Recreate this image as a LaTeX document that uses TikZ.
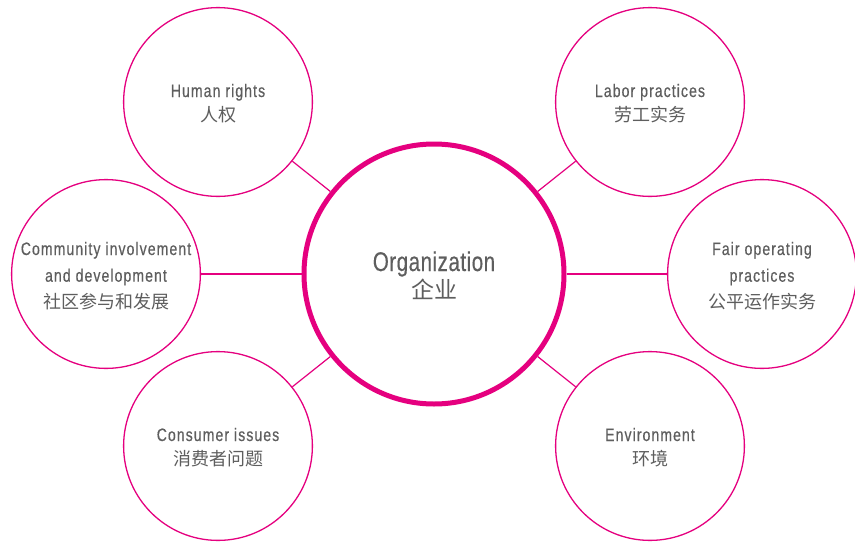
\documentclass[tikz,border=0pt]{standalone}
\usepackage{fontspec}
\newfontfamily\smallfont{Liberation Sans}[FakeStretch=0.78, LetterSpace=6, FakeBold=0.4]
\newfontfamily\bigfont{Liberation Sans}[FakeStretch=0.76, LetterSpace=2, FakeBold=0.3]
\newfontfamily\cjk{Noto Sans CJK SC}
\definecolor{mag}{HTML}{E5007F}
\definecolor{txt}{HTML}{5E5E5E}
\tikzset{
  outer/.style={circle, draw=mag, line width=1.3pt, minimum size=188.8pt, inner sep=0pt},
  centre/.style={circle, draw=mag, line width=5pt, minimum size=260pt, inner sep=0pt},
  conn/.style={draw=mag, line width=1.2pt},
  en/.style={text=txt, font=\smallfont\fontsize{18}{20}\selectfont, anchor=base, inner sep=0pt},
  zh/.style={text=txt, font=\cjk\fontsize{18}{20}\selectfont, anchor=base, inner sep=0pt},
  enbig/.style={text=txt, font=\bigfont\fontsize{27}{30}\selectfont, anchor=base, inner sep=0pt},
  zhbig/.style={text=txt, font=\cjk\fontsize{23}{26}\selectfont, anchor=base, inner sep=0pt}
}
\begin{document}
\begin{tikzpicture}[x=1pt,y=-1pt]
\useasboundingbox (0,0) rectangle (855,544);
\fill[white] (0,0) rectangle (855,544);
\node[centre] (org) at (434,274) {};
\node[outer] (hr)   at (218,102) {};
\node[outer] (lab)  at (650,102) {};
\node[outer] (com)  at (106,274) {};
\node[outer] (fair) at (762,274) {};
\node[outer] (con)  at (218,446) {};
\node[outer] (env)  at (650,446) {};
\foreach \n in {hr,lab,com,fair,con,env} \draw[conn] (org) -- (\n);
% texts
\node[enbig] (org-en) at (434,271) {Organization};
\node[zhbig] (org-zh) at (434,298) {企业};
\node[en] (hr-en) at (218,97) {Human rights};
\node[zh] (hr-zh) at (218,121) {人权};
\node[en] (lab-en) at (650,97) {Labor practices};
\node[zh] (lab-zh) at (650,121) {劳工实务};
\node[en] (com-en1) at (106,255) {Community involvement};
\node[en] (com-en2) at (106,281.7) {and development};
\node[zh] (com-zh) at (106,308) {社区参与和发展};
\node[en] (fair-en1) at (762,255) {Fair operating};
\node[en] (fair-en2) at (762,281.7) {practices};
\node[zh] (fair-zh) at (762,308) {公平运作实务};
\node[en] (con-en) at (218,441) {Consumer issues};
\node[zh] (con-zh) at (218,465) {消费者问题};
\node[en] (env-en) at (650,441) {Environment};
\node[zh] (env-zh) at (650,465) {环境};
\end{tikzpicture}
\end{document}
